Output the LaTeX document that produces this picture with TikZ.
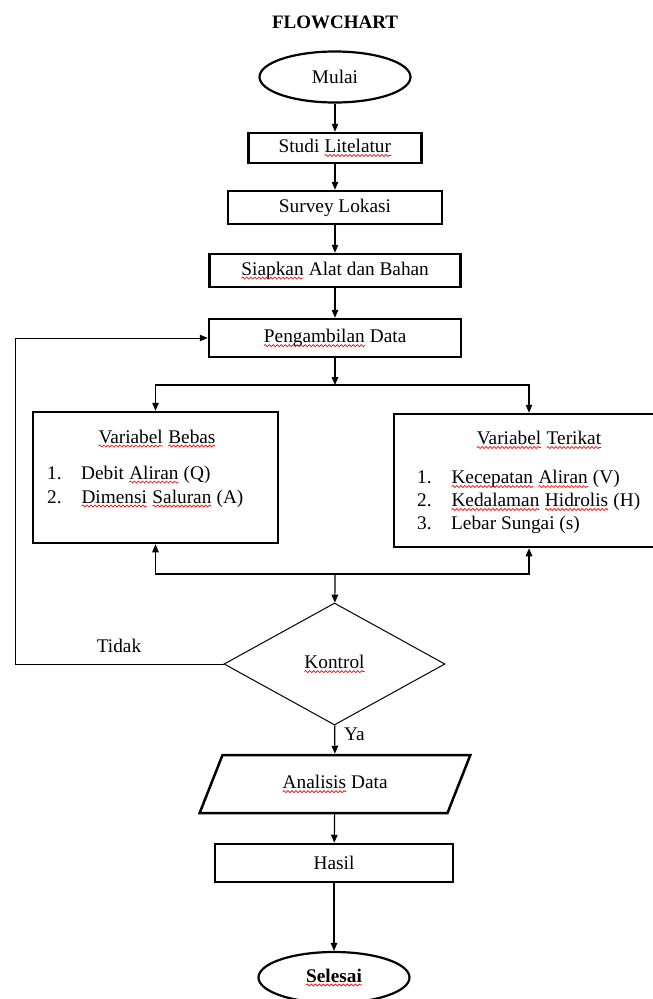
\documentclass[tikz,border=0pt]{standalone}
\usepackage{fontspec}
\setmainfont{Liberation Serif}
\usetikzlibrary{shapes.geometric,arrows.meta,decorations.pathmorphing}

% red spell-check wave under a word
\newcommand\spell[1]{\tikz[baseline=(sw.base)]{%
    \node[shape=rectangle, draw=none, fill=none, inner sep=0pt, outer sep=0pt,
          minimum width=0pt, minimum height=0pt, anchor=base] (sw) {#1};
    \draw[red, line width=0.7pt, decorate, decoration={snake, amplitude=1pt, segment length=4pt}]
        ([yshift=-3pt]sw.base west) -- ([yshift=-3pt]sw.base east);}}

\tikzset{
  stepbox/.style={draw, line width=2.5pt, minimum height=33pt, inner sep=0pt},
  ovalbox/.style={draw, ellipse, line width=2.2pt, minimum width=151pt, minimum height=51pt, inner sep=0pt},
  flow/.style={line width=1.2pt, -{Triangle[length=8pt,width=6.5pt]}},
  txt/.style={inner sep=0pt},
}

\begin{document}
\begin{tikzpicture}[x=1pt, y=-1pt, font=\fontsize{19.3pt}{23pt}\selectfont]
    \useasboundingbox (0,0) rectangle (653,999);
    % Title
    \node[txt, font=\fontsize{19pt}{23pt}\selectfont\bfseries] (title) at (335,22) {FLOWCHART};
    % Main column
    \node[ovalbox] (mulai) at (335,77) {Mulai};
    \node[stepbox, minimum width=173pt, minimum height=30pt] (studi) at (335,148) {Studi \spell{Litelatur}};
    \node[stepbox, minimum width=214pt] (survey) at (335,207.5) {Survey Lokasi};
    \node[stepbox, minimum width=251pt] (siapkan) at (335,270.5) {\spell{Siapkan} Alat dan Bahan};
    \node[stepbox, minimum width=252pt, minimum height=38pt] (ambil) at (335,338) {\spell{Pengambilan} Data};
    % Variable boxes
    \node[stepbox, minimum width=245pt, minimum height=131pt] (bebas) at (155.5,477.5) {};
    \node[stepbox, minimum width=290pt, minimum height=133pt] (terikat) at (539,480.5) {};
    \node[txt, anchor=base] (bebastitle) at (157,443) {\spell{Variabel} \spell{Bebas}};
    \node[txt, anchor=base] (terikattitle) at (539,444.5) {\spell{Variabel} \spell{Terikat}};
    \foreach \idx/\entry/\yb [count=\k] in {1./Debit \spell{Aliran} (Q)/479, 2./\spell{Dimensi} \spell{Saluran} (A)/503} {
        \node[txt, anchor=base west] (bnum\k) at (47,\yb) {\idx};
        \node[txt, anchor=base west] (bitem\k) at (81,\yb) {\entry};
    }
    \foreach \idx/\entry/\yb [count=\k] in {1./\spell{Kecepatan} \spell{Aliran} (V)/483.5, 2./\spell{Kedalaman} \spell{Hidrolis} (H)/506.5, 3./Lebar Sungai (s)/529.5} {
        \node[txt, anchor=base west] (tnum\k) at (417,\yb) {\idx};
        \node[txt, anchor=base west] (titem\k) at (451,\yb) {\entry};
    }
    % Decision and output
    \node[draw, diamond, line width=1pt, minimum width=221pt, minimum height=122pt, inner sep=0pt] (kontrol) at (334.5,664) {\spell{Kontrol}};
    \node[draw, trapezium, trapezium left angle=58.9, trapezium right angle=121.1, trapezium stretches=true,
          line width=2.5pt, minimum width=271pt, minimum height=58pt, inner sep=0pt] (analisis) at (335,784) {\spell{Analisis} Data};
    \node[stepbox, minimum width=238pt, minimum height=38pt] (hasil) at (334,863) {Hasil};
    \node[ovalbox] (selesai) at (334,977.5) {\textbf{\spell{Selesai}}};
    % Draw arrows
    \draw[flow] (mulai) -- (studi);
    \draw[flow] (studi) -- (survey);
    \draw[flow] (survey) -- (siapkan);
    \draw[flow] (siapkan) -- (ambil);
    % Split to variables
    \coordinate (split) at (335,385);
    \draw[flow] (ambil) -- (split);
    \draw[flow] (split) -| (bebas.north);
    \draw[flow] (split) -| ([xshift=-10pt]terikat.north);
    % Join to control
    \coordinate (join) at (335,574);
    \draw[flow] (join) -| (bebas.south);
    \draw[flow] (join) -| ([xshift=-10pt]terikat.south);
    \draw[flow] (join) -- (kontrol);
    % Loop back
    \coordinate (back) at (15,664);
    \draw[flow, line width=1pt] (kontrol.west) -- (back) |- (ambil.west);
    \node[txt] (tidak) at (119,646) {Tidak};
    \draw[flow] (kontrol) -- (analisis);
    \node[txt, anchor=west] (ya) at (344,734) {Ya};
    \draw[flow] (analisis) -- (hasil);
    \draw[flow] (hasil) -- (selesai);
\end{tikzpicture}
\end{document}
